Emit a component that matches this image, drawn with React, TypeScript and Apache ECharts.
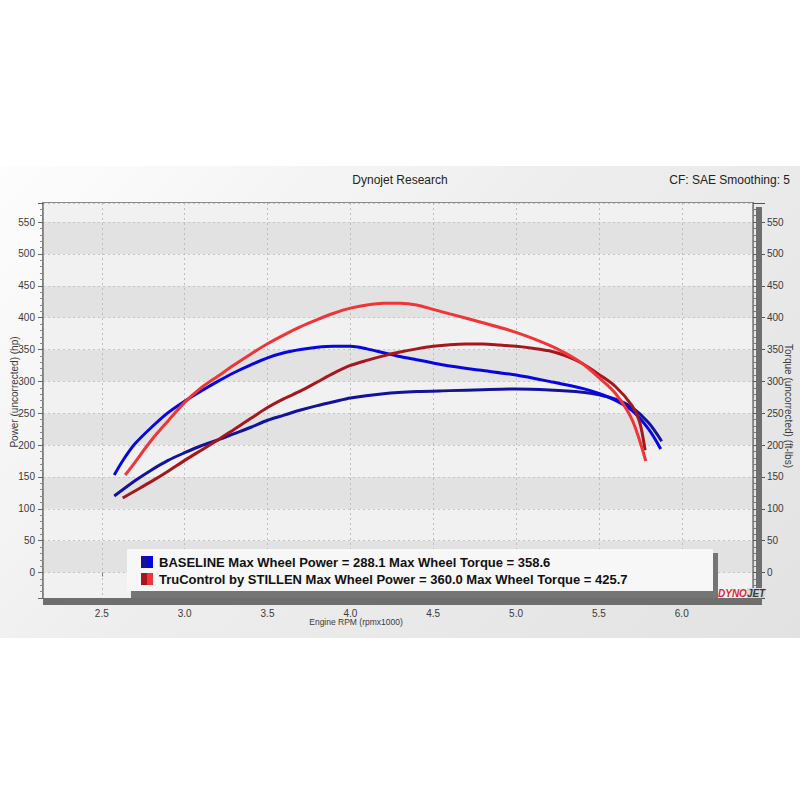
import React, { useEffect, useRef } from "react";
import * as echarts from "echarts";

// ---- data (rpm x1000, value) ----
const baselineTorqueRpm = [2.575, 2.63, 2.7, 2.8, 2.9, 3.0, 3.1, 3.2, 3.3, 3.4, 3.5, 3.6, 3.7, 3.8, 3.9, 4.0, 4.1, 4.2, 4.3, 4.4, 4.5, 4.6, 4.8, 5.0, 5.2, 5.4, 5.5, 5.6, 5.7, 5.8, 5.873];
const baselineTorque = [153, 177, 202, 228, 251, 269, 285, 300, 314, 326, 337, 345, 350, 353.5, 355, 355, 351, 345, 339, 334, 329, 324, 317, 310, 300, 289, 281, 270, 254, 225, 194];

const baselinePowerRpm = [2.575, 2.7, 2.8, 2.9, 3.0, 3.1, 3.2, 3.3, 3.4, 3.5, 3.6, 3.7, 3.8, 3.9, 4.0, 4.2, 4.4, 4.6, 4.8, 5.0, 5.2, 5.4, 5.5, 5.6, 5.7, 5.8, 5.879];
const baselinePower = [120, 144, 161, 176, 188, 199, 208, 218, 228, 239, 247, 255, 262, 268, 274, 280.5, 284, 285.5, 287, 288, 286.5, 283, 279, 272, 259, 235, 206];

const stillenTorqueRpm = [2.641, 2.7, 2.8, 2.9, 3.0, 3.1, 3.2, 3.3, 3.4, 3.5, 3.6, 3.7, 3.8, 3.9, 4.0, 4.1, 4.2, 4.3, 4.4, 4.5, 4.6, 4.8, 5.0, 5.2, 5.3, 5.4, 5.5, 5.6, 5.7, 5.783];
const stillenTorque = [153, 173, 208, 238, 267, 290, 308, 326, 343, 359, 373, 386, 397, 407, 415, 420, 422.5, 422.5, 420, 413, 406, 392, 377, 357, 344, 328, 306, 281, 240, 175];

const stillenPowerRpm = [2.626, 2.7, 2.8, 2.9, 3.0, 3.1, 3.2, 3.3, 3.4, 3.5, 3.6, 3.7, 3.8, 3.9, 4.0, 4.1, 4.2, 4.3, 4.4, 4.5, 4.6, 4.7, 4.8, 4.9, 5.0, 5.1, 5.2, 5.3, 5.4, 5.5, 5.6, 5.7, 5.745, 5.779];
const stillenPower = [117, 128, 143, 159, 176, 192, 208, 225, 242, 259, 273, 285, 299, 313, 325, 333, 340, 346, 351, 355, 357.5, 358.5, 358.5, 357, 355, 352, 348, 340, 328, 311, 292, 262, 237, 192];

const legendLines = [
  "BASELINE Max Wheel Power = 288.1 Max Wheel Torque = 358.6",
  "TruControl by STILLEN Max Wheel Power = 360.0 Max Wheel Torque = 425.7",
];

const pairs = (xs: number[], ys: number[]) => xs.map((x, i) => [x, ys[i]]);

const C_NAVY = "#12129e";
const C_BLUE = "#0606e2";
const C_DRED = "#a5161d";
const C_RED = "#f03437";

export default function App() {
  const ref = useRef<HTMLDivElement>(null);
  useEffect(() => {
    if (!ref.current) return;
    const chart = echarts.init(ref.current, undefined, { renderer: "svg" });
    const font = "Liberation Sans, Arial, sans-serif";
    const lineSeries = (name: string, data: number[][], color: string) => ({
      name,
      type: "line",
      data,
      showSymbol: false,
      smooth: 0.3,
      lineStyle: { width: 3, color },
      itemStyle: { color },
      z: 3,
    });
    chart.setOption({
      animation: false,
      backgroundColor: "transparent",
      textStyle: { fontFamily: font },
      grid: {
        left: 43,
        top: 203,
        width: 710,
        height: 395,
        outerBoundsMode: "none",
        containLabel: false,
        show: true,
        borderColor: "#8a8a8a",
        borderWidth: 2,
        backgroundColor: "transparent",
      },
      xAxis: {
        type: "value",
        min: 2.145,
        max: 6.43,
        splitNumber: 8,
        axisLine: { show: false },
        axisTick: { show: true, length: 4, lineStyle: { color: "#777" } },
        axisLabel: {
          margin: 10,
          fontSize: 10,
          color: "#3a3a3a",
          showMinLabel: false,
          showMaxLabel: false,
          formatter: (v: number) => v.toFixed(1),
        },
        splitLine: { show: true, lineStyle: { type: [2, 3], color: "#bdbdbd" } },
      },
      yAxis: [
        {
          type: "value",
          min: -40,
          max: 580,
          splitNumber: 12,
          position: "left",
          axisLine: { show: true, lineStyle: { color: "#7a7a7a", width: 1.5 } },
          axisTick: { show: true, length: 5, lineStyle: { color: "#666" } },
          minorTick: { show: true, splitNumber: 5, length: 3, lineStyle: { color: "#888" } },
          axisLabel: { fontSize: 10, color: "#3a3a3a", margin: 8, showMinLabel: false, showMaxLabel: false },
          splitLine: { show: true, lineStyle: { type: [2, 3], color: "#c6c6c6" } },
          splitArea: { show: true, areaStyle: { color: ["#f1f1f1", "#e2e2e2"] } },
        },
        {
          type: "value",
          min: -40,
          max: 580,
          splitNumber: 12,
          position: "right",
          axisLine: { show: true, lineStyle: { color: "#7a7a7a", width: 1.5 } },
          axisTick: { show: true, length: 12, lineStyle: { color: "#555" } },
          minorTick: { show: true, splitNumber: 5, length: 4, lineStyle: { color: "#777" } },
          axisLabel: { fontSize: 10, color: "#3a3a3a", margin: 14, showMinLabel: false, showMaxLabel: false },
          splitLine: { show: false },
          splitArea: { show: false },
        },
      ],
      series: [
        lineSeries("Baseline Power", pairs(baselinePowerRpm, baselinePower), C_NAVY),
        lineSeries("Baseline Torque", pairs(baselineTorqueRpm, baselineTorque), C_BLUE),
        lineSeries("TruControl Power", pairs(stillenPowerRpm, stillenPower), C_DRED),
        lineSeries("TruControl Torque", pairs(stillenTorqueRpm, stillenTorque), C_RED),
      ],
      graphic: [
        {
          type: "text",
          x: 400,
          y: 180,
          style: { text: "Dynojet Research", fill: "#222", font: `12px ${font}`, align: "center", verticalAlign: "middle" },
        },
        {
          type: "text",
          x: 790,
          y: 180,
          style: { text: "CF: SAE Smoothing: 5", fill: "#222", font: `12px ${font}`, align: "right", verticalAlign: "middle" },
        },
        {
          type: "text",
          x: 356,
          y: 622,
          style: { text: "Engine RPM (rpmx1000)", fill: "#3a3a3a", font: `8.5px ${font}`, align: "center", verticalAlign: "middle" },
        },
        {
          type: "text",
          x: 14,
          y: 392,
          rotation: Math.PI / 2,
          style: { text: "Power (uncorrected) (hp)", fill: "#3a3a3a", font: `10px ${font}`, align: "center", verticalAlign: "middle" },
        },
        {
          type: "text",
          x: 788,
          y: 406,
          rotation: -Math.PI / 2,
          style: { text: "Torque (uncorrected) (ft-lbs)", fill: "#3a3a3a", font: `10px ${font}`, align: "center", verticalAlign: "middle" },
        },
        // plot shadow bars
        { type: "rect", z: 50, shape: { x: 756, y: 207, width: 6, height: 398 }, style: { fill: "#6e6e6e" } },
        { type: "rect", z: 50, shape: { x: 43, y: 598, width: 719, height: 7 }, style: { fill: "#6e6e6e" } },
        // legend box
        { type: "rect", z: 60, shape: { x: 131, y: 553, width: 587, height: 45 }, style: { fill: "#757575" } },
        { type: "rect", z: 61, shape: { x: 127, y: 549, width: 586, height: 42 }, style: { fill: "#f7f7f7" } },
        { type: "rect", z: 62, shape: { x: 141, y: 556, width: 6, height: 12 }, style: { fill: C_NAVY } },
        { type: "rect", z: 62, shape: { x: 147, y: 556, width: 6, height: 12 }, style: { fill: C_BLUE } },
        { type: "rect", z: 62, shape: { x: 141, y: 573, width: 6, height: 12 }, style: { fill: C_DRED } },
        { type: "rect", z: 62, shape: { x: 147, y: 573, width: 6, height: 12 }, style: { fill: C_RED } },
        {
          type: "text",
          z: 62,
          x: 159,
          y: 562.5,
          style: { text: legendLines[0], fill: "#111", font: `bold 13px ${font}`, align: "left", verticalAlign: "middle" },
        },
        {
          type: "text",
          z: 62,
          x: 159,
          y: 579.5,
          style: { text: legendLines[1], fill: "#111", font: `bold 13px ${font}`, align: "left", verticalAlign: "middle" },
        },
        // logo
        {
          type: "text",
          z: 70,
          x: 718,
          y: 593,
          style: {
            text: "{a|DYNO}{b|JET}",
            verticalAlign: "middle",
            align: "left",
            rich: {
              a: { fill: "#e3262b", font: `italic 900 10px ${font}`, backgroundColor: "#f4f4f4" },
              b: { fill: "#3a3a3a", font: `italic 900 10px ${font}`, backgroundColor: "#d8d8d8" },
            },
          },
        },
      ],
    });
    return () => chart.dispose();
  }, []);

  return (
    <div style={{ position: "fixed", left: 0, top: 0, width: 800, height: 800, background: "#fff" }}>
      <div
        style={{
          position: "absolute",
          left: 0,
          top: 166,
          width: 800,
          height: 472,
          background: "linear-gradient(135deg, #fdfdfd 0%, #eeeeee 45%, #e2e2e2 100%)",
        }}
      />
      <div ref={ref} style={{ position: "absolute", left: 0, top: 0, width: 800, height: 800 }} />
    </div>
  );
}
